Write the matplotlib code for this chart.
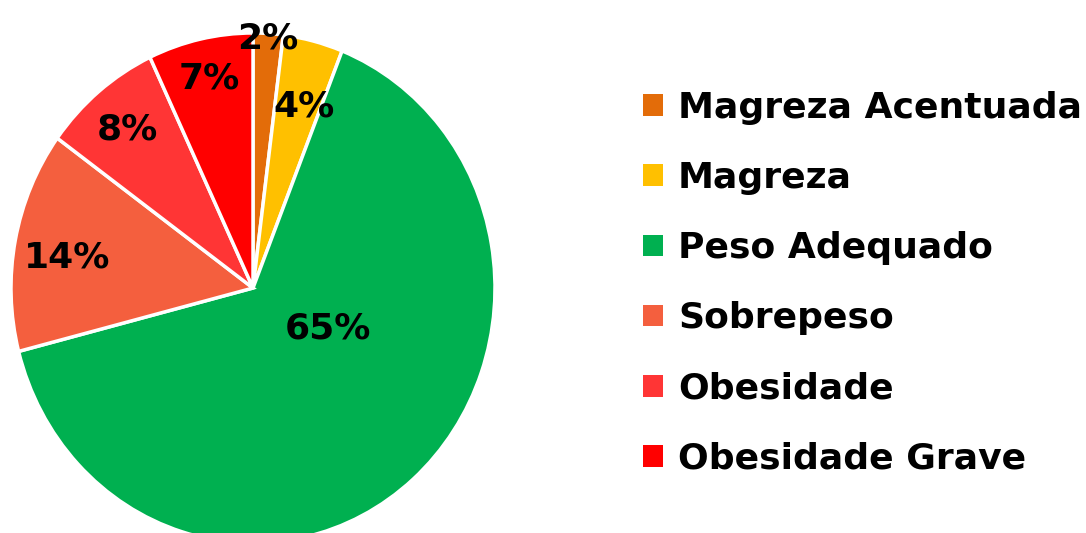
import matplotlib.pyplot as plt
from matplotlib.patches import Patch

categories = ["Magreza Acentuada", "Magreza", "Peso Adequado", "Sobrepeso", "Obesidade", "Obesidade Grave"]
values = [2, 4, 65, 14, 8, 7]
colors = ["#E36C09", "#FFC000", "#00B050", "#F45F3E", "#FF3535", "#FF0000"]

# label positions (in pie-radius units), mimicking the "best fit" placement
label_pos = [(0.06, 0.98), (0.21, 0.71), (0.31, -0.16), (-0.77, 0.12), (-0.52, 0.62), (-0.18, 0.82)]

plt.rcParams['font.family'] = ['DejaVu Sans']

fig = plt.figure(figsize=(10.86, 5.33), dpi=100)
# pie is slightly taller than wide in the reference
ax = fig.add_axes([11 / 1086, -10 / 533, 484 / 1086, 510 / 533])

wedges, _ = ax.pie(values, colors=colors, startangle=90, counterclock=False,
                   wedgeprops=dict(edgecolor="white", linewidth=2.5))
ax.set_aspect("auto")
ax.set_xlim(-1, 1)
ax.set_ylim(-1, 1)
ax.axis("off")

for v, (x, y) in zip(values, label_pos):
    ax.text(x, y, f"{v}%", ha="center", va="center", fontsize=26,
            fontweight="bold", color="black", clip_on=False)

handles = [Patch(facecolor=c, edgecolor="none") for c in colors]
fig.legend(handles, categories, loc="upper left", bbox_to_anchor=(643 / 1086, 1 - 91 / 533),
           frameon=False, prop=dict(weight="bold", size=26),
           handlelength=0.55, handleheight=0.55, handletextpad=0.42, labelspacing=1.0,
           borderaxespad=0, borderpad=0)

fig.savefig("out.png", dpi=100)
